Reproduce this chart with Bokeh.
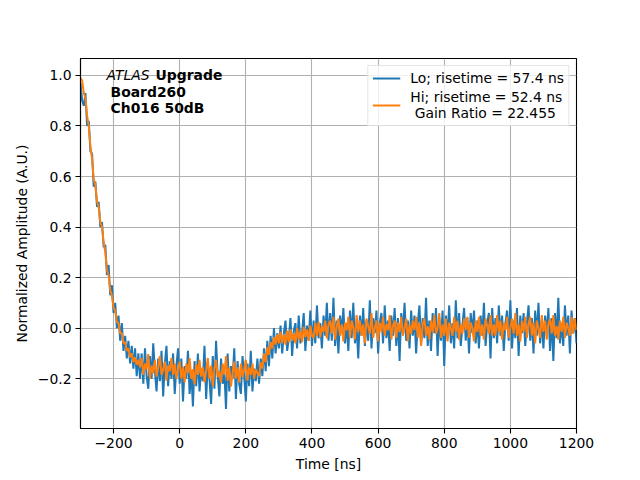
import numpy as np
from bokeh.plotting import figure
from bokeh.models import Label, Range1d, FixedTicker, CustomJSTickFormatter
from bokeh.embed import file_html
from bokeh.resources import INLINE

# sampling grid of the waveform (ns)
t_start = -300.0
t_step = 5.0

# Lo gain channel (normalized)
lo = [
    0.97, 0.90, 0.88, 0.93, 0.80, 0.82, 0.70, 0.69, 0.56, 0.58, 0.48, 0.50, 0.40, 0.42,
    0.32, 0.33, 0.21, 0.25, 0.13, 0.17, 0.06, 0.10, 0.0, 0.05, -0.05, 0.02, -0.09, -0.03,
    -0.12, -0.05, -0.14, -0.07, -0.16, -0.08, -0.19, -0.10, -0.2,
    -0.1, -0.22, -0.08, -0.19, -0.24, -0.11, -0.2, -0.06, -0.17, -0.25, -0.12, -0.21,
    -0.09, -0.27, -0.14, -0.07, -0.23, -0.13, -0.2, -0.1, -0.26, -0.15, -0.08,
    -0.22, -0.12, -0.29, -0.15, -0.2, -0.09, -0.26, -0.17, -0.31, -0.13, -0.23, -0.1,
    -0.25, -0.16, -0.21, -0.07, -0.28, -0.14, -0.2, -0.3, -0.11, -0.24, -0.05, -0.19,
    -0.27, -0.12, -0.22, -0.17, -0.32, -0.1, -0.25, -0.15, -0.2, -0.08, -0.28, -0.13,
    -0.22, -0.26, -0.11, -0.19, -0.29, -0.14, -0.23, -0.09, -0.25, -0.16, -0.21, -0.12,
    -0.22, -0.12, -0.19, -0.08, -0.17, -0.05, -0.15, -0.03, -0.12, 0.0, -0.1, -0.02, -0.08,
    0.01, -0.1, -0.02, 0.03, -0.09, -0.04, 0.04, -0.11, -0.01, 0.02,
    -0.08, 0.05, -0.06, -0.02, 0.06, -0.09, 0.01, -0.05, 0.07, -0.07,
    0.03, -0.06, 0.09, -0.04, 0.02, -0.08, 0.05, -0.03, 0.1, -0.05,
    0.06, -0.05, 0.12, -0.07, 0.03, -0.1, 0.05, -0.02, 0.08, -0.06,
    0.02, -0.09, 0.07, -0.04, 0.1, -0.06, 0.01, -0.12, 0.05, -0.03,
    0.08, -0.07, 0.03, -0.05, 0.11, -0.08, 0.04, -0.02, 0.07, -0.1,
    0.02, 0.06, -0.06, 0.09, -0.04, 0.03, -0.09, 0.05, -0.03, 0.08,
    -0.07, 0.04, -0.13, 0.06, -0.02, 0.1, -0.05, 0.03, -0.08, 0.07,
    -0.03, 0.05, -0.1, 0.02, 0.09, -0.06, 0.04, -0.04, 0.12, -0.07,
    0.03, -0.09, 0.06, -0.02, 0.08, -0.11, 0.04, -0.05, 0.07, -0.15,
    0.05, -0.03, 0.09, -0.06, 0.02, -0.08, 0.11, -0.04, 0.06, -0.07,
    0.01, 0.08, -0.05, 0.04, -0.1, 0.06, -0.02, 0.07, -0.06, 0.03,
    -0.08, 0.05, -0.03, 0.1, -0.07, 0.02, 0.06, -0.12, 0.08, -0.04,
    0.04, -0.06, 0.09, -0.03, 0.05, -0.09, 0.02, 0.07, -0.05, 0.11,
    -0.08, 0.03, -0.04, 0.08, -0.11, 0.05, -0.02, 0.06, -0.07, 0.02,
    0.09, -0.05, 0.04, -0.1, 0.07, -0.03, 0.1, -0.06, 0.03, -0.08,
    0.05, -0.02, 0.08, -0.09, 0.04, -0.13, 0.06, -0.04, 0.12, -0.06,
    0.02, -0.07, 0.09, -0.03, 0.05, -0.1, 0.07, -0.02, 0.04, -0.06,
]

# Hi gain channel (normalized)
hi = [
    0.99, 0.98, 0.93, 0.91, 0.84, 0.80, 0.72, 0.67, 0.59, 0.565, 0.50, 0.48, 0.42, 0.40,
    0.34, 0.30, 0.23, 0.21, 0.15, 0.13, 0.08, 0.07, 0.025, 0.02, -0.02, -0.02, -0.06,
    -0.055, -0.09, -0.08, -0.115, -0.10, -0.135, -0.115, -0.145, -0.125, -0.155,
    -0.118, -0.185, -0.14, -0.162, -0.102, -0.2, -0.148, -0.178, -0.125, -0.192, -0.155,
    -0.11, -0.185, -0.162, -0.132, -0.208, -0.148, -0.17, -0.118, -0.185, -0.14, -0.2, -0.162,
    -0.132, -0.2, -0.155, -0.215, -0.14, -0.178, -0.118, -0.2, -0.162, -0.222, -0.14, -0.185,
    -0.125, -0.192, -0.155, -0.215, -0.17, -0.118, -0.2, -0.148, -0.23, -0.162, -0.125, -0.192,
    -0.17, -0.215, -0.14, -0.185, -0.11, -0.208, -0.155, -0.23, -0.178, -0.132, -0.2, -0.155,
    -0.215, -0.14, -0.192, -0.162, -0.125, -0.208, -0.155, -0.185, -0.14, -0.2, -0.162, -0.178,
    -0.19, -0.135, -0.16, -0.1, -0.135, -0.075, -0.105, -0.055, -0.08, -0.035, -0.065,
    -0.025, -0.06,
    -0.015, -0.06, -0.025, -0.065, -0.01, -0.055, -0.005, -0.05, -0.02, -0.06,
    0.0, -0.045, -0.01, -0.055, 0.005, -0.035, -0.005, -0.05, 0.01, -0.03,
    -0.04, 0.02, -0.03, 0.025, -0.035, 0.01, -0.015, 0.03, -0.04, 0.015,
    0.03, -0.022, 0.045, -0.045, 0.008, 0.038, -0.03, 0.015, -0.052, 0.022,
    -0.008, 0.045, -0.038, 0.03, 0.0, -0.045, 0.052, -0.015, 0.03, -0.03,
    0.015, -0.06, 0.038, 0.008, -0.022, 0.06, -0.038, 0.0, 0.03, -0.052,
    0.022, -0.015, 0.045, -0.03, 0.015, -0.008, 0.052, -0.045, 0.008, 0.03,
    -0.038, 0.022, -0.015, 0.045, -0.03, 0.0, 0.038, -0.052, 0.015, -0.022,
    0.03, -0.008, 0.045, -0.038, 0.022, -0.07, 0.015, 0.038, -0.03, 0.008,
    -0.045, 0.03, -0.015, 0.052, -0.022, 0.0, 0.06, -0.038, 0.015, -0.03,
    0.038, -0.052, 0.022, 0.0, -0.03, 0.045, -0.015, 0.03, -0.045, 0.015,
    -0.022, 0.038, -0.008, 0.045, -0.038, 0.022, 0.0, -0.052, 0.03, -0.015,
    0.045, -0.03, 0.015, -0.045, 0.038, 0.008, -0.022, 0.052, -0.03, 0.015,
    -0.03, 0.052, -0.015, 0.03, -0.045, 0.022, -0.008, 0.045, -0.038, 0.0,
    0.038, -0.022, 0.06, -0.03, 0.015, -0.052, 0.03, -0.015, 0.045, -0.038,
    0.008, 0.045, -0.03, 0.022, -0.06, 0.03, 0.0, -0.038, 0.052, -0.015,
    0.03, -0.045, 0.015, 0.038, -0.022, 0.052, -0.03, 0.008, -0.045, 0.03,
    -0.015, 0.045, -0.038, 0.022, 0.0, -0.03, 0.045, -0.022, 0.038, -0.008,
]

x_ticks = [-200, 0, 200, 400, 600, 800, 1000, 1200]
y_ticks = [-0.2, 0.0, 0.2, 0.4, 0.6, 0.8, 1.0]
lo_label = "Lo; risetime = 57.4 ns"
hi_label = "Hi; risetime = 52.4 ns\n Gain Ratio = 22.455"

t_lo = t_start + t_step * np.arange(len(lo))
t_hi = t_start + t_step * np.arange(len(hi))

FS = "13.9px"
p = figure(frame_width=496, frame_height=370,
           x_range=Range1d(-300, 1200), y_range=Range1d(-0.397, 1.067),
           output_backend="svg", toolbar_location=None,
           min_border_left=80, min_border_top=58, min_border_right=64, min_border_bottom=44)

p.line(t_lo, lo, line_color="#1f77b4", line_width=2.0, legend_label=lo_label)
p.line(t_hi, hi, line_color="#ff7f0e", line_width=2.0, legend_label=hi_label)

p.outline_line_color = "black"
p.outline_line_width = 1.1
p.background_fill_color = "white"
p.border_fill_color = "white"

p.xaxis.ticker = FixedTicker(ticks=x_ticks)
p.yaxis.ticker = FixedTicker(ticks=y_ticks)
p.xaxis.formatter = CustomJSTickFormatter(code="return tick.toFixed(0).replace('-', '\u2212');")
p.yaxis.formatter = CustomJSTickFormatter(code="return tick.toFixed(1).replace('-', '\u2212');")
for ax in (p.xaxis[0], p.yaxis[0]):
    ax.axis_line_color = "black"
    ax.axis_line_width = 1.1
    ax.major_tick_line_color = "black"
    ax.major_tick_line_width = 1.1
    ax.major_tick_out = 5
    ax.major_tick_in = 0
    ax.minor_tick_line_color = None
    ax.major_label_text_font = "DejaVu Sans"
    ax.major_label_text_font_size = FS
    ax.major_label_text_color = "black"
    ax.major_label_standoff = 4
    ax.axis_label_text_font = "DejaVu Sans"
    ax.axis_label_text_font_size = FS
    ax.axis_label_text_font_style = "normal"
    ax.axis_label_text_color = "black"
    ax.axis_label_standoff = 5
p.xaxis.axis_label = "Time [ns]"
p.yaxis.axis_label = "Normalized Amplitude (A.U.)"

p.grid.grid_line_color = "#b0b0b0"
p.grid.grid_line_width = 1.1

lg = p.legend[0]
lg.location = "top_right"
lg.margin = 7
lg.padding = 4
lg.spacing = 3
lg.glyph_width = 28
lg.glyph_height = 16
lg.label_height = 16
lg.label_text_font = "DejaVu Sans"
lg.label_text_font_size = FS
lg.label_text_color = "black"
lg.label_text_line_height = 1.05
lg.border_line_color = "#cccccc"
lg.border_line_width = 1
lg.background_fill_alpha = 0.8
lg.label_standoff = 10

def add_label(x, y, text, style):
    p.add_layout(Label(x=x, y=y, text=text, text_font="DejaVu Sans", text_font_size=FS,
                       text_font_style=style, text_color="black", text_baseline="middle",
                       text_align="left"))

add_label(-221, 1.0, "ATLAS", "italic")
add_label(-73, 1.0, "Upgrade", "bold")
add_label(-209, 0.933, "Board260", "bold")
add_label(-209, 0.870, "Ch016 50dB", "bold")

open("out.html", "w").write(file_html(p, INLINE))
